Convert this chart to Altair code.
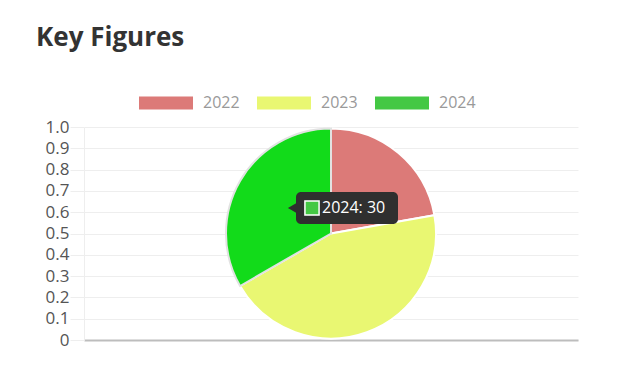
import altair as alt
import pandas as pd

title_text = "Key Figures"
years = ["2022", "2023", "2024"]
values = [20, 40, 30]
y_ticks = [0, 0.1, 0.2, 0.3, 0.4, 0.5, 0.6, 0.7, 0.8, 0.9, 1.0]
slice_colors = ["#dc7a78", "#e9f772", "#12db1a"]
legend_colors = ["#dc7a78", "#e9f772", "#44c844"]
slice_strokes = ["#ffffff", "#ffffff", "#e2e2e2"]
hover_year = "2024"

FONT = "Open Sans"

pie_df = pd.DataFrame({"year": years, "value": values})
axis_df = pd.DataFrame({"tick": y_ticks, "xd": [0.5] * len(y_ticks)})
title_df = pd.DataFrame({"t": [title_text]})

axis_layer = alt.Chart(axis_df).mark_point(opacity=0).encode(
    x=alt.X("xd:Q", scale=alt.Scale(domain=[0, 1]),
            axis=alt.Axis(labels=False, ticks=False, grid=False, title=None,
                          domainColor="#bdbdbd", domainWidth=2)),
    y=alt.Y("tick:Q", scale=alt.Scale(domain=[0, 1], nice=False),
            axis=alt.Axis(values=y_ticks, title=None,
                          labelExpr="datum.value == 0 ? '0' : format(datum.value, '.1f')",
                          labelFontSize=17, labelColor="#555555", labelFont=FONT,
                          tickSize=14, tickColor="#eeeeee", gridColor="#eeeeee",
                          domainColor="#eeeeee", labelPadding=1)),
)

pie = alt.Chart(pie_df).mark_arc(radius=105, strokeWidth=2).encode(
    theta=alt.Theta("value:Q", stack=True),
    color=alt.Color("year:N", scale=alt.Scale(domain=years, range=slice_colors), legend=None),
    stroke=alt.Stroke("year:N", scale=alt.Scale(domain=years, range=slice_strokes), legend=None),
    order=alt.Order("year:N"),
)

legend_layer = alt.Chart(pie_df).mark_point(filled=True, size=0).encode(
    color=alt.Color("year:N", scale=alt.Scale(domain=years, range=legend_colors),
                    legend=alt.Legend(orient="none", legendX=55, legendY=-51,
                                      direction="horizontal", title=None,
                                      symbolType="M-1,-0.24H1V0.24H-1Z",
                                      symbolSize=2916, symbolStrokeWidth=0,
                                      symbolOpacity=1,
                                      labelFontSize=16, labelColor="#999999",
                                      labelFont=FONT, labelOffset=10,
                                      columnPadding=17, padding=0)),
)

tip_base = alt.Chart(pie_df).transform_filter(
    alt.datum.year == hover_year
).transform_calculate(label="datum.year + ': ' + datum.value")

tip_box = tip_base.mark_rect(color="#2f2f2f", cornerRadius=5).encode(
    x=alt.value(212), x2=alt.value(314), y=alt.value(65), y2=alt.value(97))
tip_arrow = tip_base.mark_point(shape="triangle-left", filled=True, color="#2f2f2f",
                                size=90, opacity=1).encode(x=alt.value(208), y=alt.value(81))
tip_swatch = tip_base.mark_point(shape="square", filled=True, fill="#44c844",
                                 stroke="white", strokeWidth=1.5, size=200,
                                 opacity=1).encode(x=alt.value(228), y=alt.value(81))
tip_text = tip_base.mark_text(align="left", baseline="middle", color="white",
                              fontSize=16, font=FONT).encode(
    x=alt.value(238), y=alt.value(81), text="label:N")

title_layer = alt.Chart(title_df).mark_text(
    align="left", baseline="alphabetic", fontSize=26, fontWeight="bold",
    color="#333333", font=FONT).encode(x=alt.value(-48), y=alt.value(-81), text="t:N")

chart = alt.layer(
    axis_layer, pie, legend_layer, tip_box, tip_arrow, tip_swatch, tip_text, title_layer
).resolve_scale(color="independent", stroke="independent").properties(
    width=494, height=213,
    padding={"left": 76, "top": 119, "right": 54, "bottom": 24},
    autosize=alt.AutoSizeParams(type="none"),
).configure_view(stroke=None)

chart.save("out.html", embed_options={"renderer": "svg", "actions": False})
